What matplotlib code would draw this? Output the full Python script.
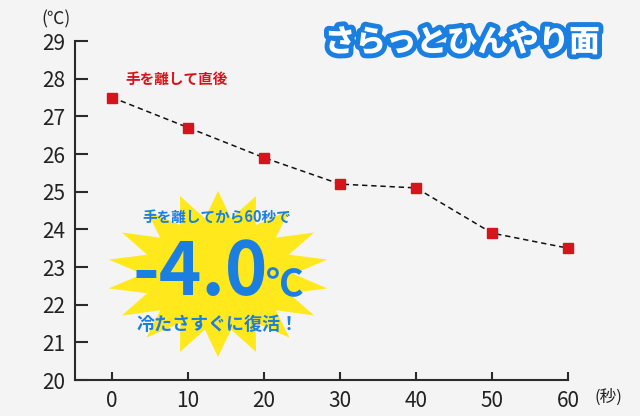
import numpy as np
import matplotlib
matplotlib.use("Agg")
import matplotlib.pyplot as plt
import matplotlib.patheffects as pe
from matplotlib.patches import Polygon

plt.rcParams['font.family'] = ['Noto Sans CJK JP', 'DejaVu Sans']

seconds = [0, 10, 20, 30, 40, 50, 60]
temps = [27.5, 26.7, 25.9, 25.2, 25.1, 23.9, 23.5]
y_ticks = [20, 21, 22, 23, 24, 25, 26, 27, 28, 29]
x_ticks = [0, 10, 20, 30, 40, 50, 60]

title = "さらっとひんやり面"
start_label = "手を離して直後"
burst_top = "手を離してから60秒で"
burst_value = "-4.0"
burst_unit = "℃"
burst_bottom = "冷たさすぐに復活！"

BG = "#f4f4f4"
RED = "#d7141c"
BLUE = "#1a7fe0"
YELLOW = "#ffe81c"
AX = "#2a2a2a"

fig = plt.figure(figsize=(6.4, 4.16), dpi=100, facecolor=BG)
ax = fig.add_axes([75/640, 36/416, (568-75)/640, (380-41)/416])
ax.set_facecolor(BG)
ax.plot(seconds, temps, color="#111111", lw=1.1, ls=(0, (3.5, 2.5)), zorder=2, clip_on=False)
ax.plot(seconds, temps, ls="none", marker="s", ms=7.5, color=RED, mec=RED, zorder=3, clip_on=False)
ax.set_xlim(-4.9, 60)
ax.set_ylim(20, 29)
ax.set_xticks(x_ticks)
ax.set_yticks(y_ticks)
ax.set_xticklabels([str(v) for v in x_ticks])
ax.set_yticklabels([str(v) for v in y_ticks])
for s in ["top", "right"]:
    ax.spines[s].set_visible(False)
for s in ["left", "bottom"]:
    ax.spines[s].set_color(AX)
    ax.spines[s].set_linewidth(1.5)
ax.tick_params(axis="y", direction="in", length=9.5, width=1.5, color=AX,
               labelsize=15, pad=7, labelcolor="#222222")
ax.tick_params(axis="x", direction="in", length=6, width=1.5, color=AX,
               labelsize=15, pad=7, labelcolor="#222222")

# overlay in pixel coordinates
ov = fig.add_axes([0, 0, 1, 1], zorder=5)
ov.set_xlim(0, 640)
ov.set_ylim(416, 0)
ov.axis("off")
ov.patch.set_alpha(0)

ov.text(56, 19, "(℃)", ha="center", va="center", fontsize=12.5, color="#222222")
ov.text(608, 397, "(秒)", ha="center", va="center", fontsize=12, color="#222222")

ov.text(177, 79, start_label, ha="center", va="center", fontsize=10.5,
        fontweight="bold", color=RED)

ov.text(462, 42, title, ha="center", va="center", fontsize=22, fontweight="black",
        color="white",
        path_effects=[pe.withStroke(linewidth=7, foreground=BLUE)])

# starburst
cx, cy, rx, ry = 218, 274, 111, 83
n = 18
angles = np.linspace(0, 2*np.pi, 2*n, endpoint=False) + np.pi/2
radii = np.where(np.arange(2*n) % 2 == 0, 1.0, 0.68)
pts = np.column_stack([cx + rx*radii*np.cos(angles), cy - ry*radii*np.sin(angles)])
ov.add_patch(Polygon(pts, closed=True, facecolor=YELLOW, edgecolor="none"))

ov.text(217, 218, burst_top, ha="center", va="center", fontsize=10.5,
        fontweight="bold", color=BLUE)
ov.text(268, 274, burst_value, ha="right", va="center", fontsize=52,
        fontweight="bold", color=BLUE)
ov.text(266, 285, burst_unit, ha="left", va="center", fontsize=27,
        fontweight="bold", color=BLUE)
ov.text(218, 325, burst_bottom, ha="center", va="center", fontsize=13,
        fontweight="bold", color=BLUE)

fig.savefig("out.png", dpi=100, facecolor=BG)
